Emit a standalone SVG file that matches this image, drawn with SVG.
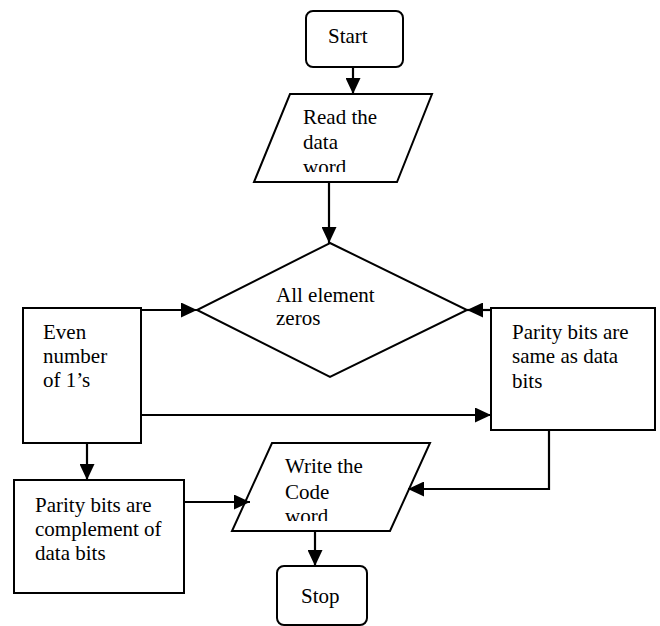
<svg xmlns="http://www.w3.org/2000/svg" width="660" height="626" viewBox="0 0 660 626">
<style>
.shape{fill:#fff;stroke:#000;stroke-width:2}
.lbl{font-family:"Liberation Serif","Times New Roman",serif;font-size:21px;fill:#000}
.conn{fill:none;stroke:#000;stroke-width:2.2;marker-end:url(#ah)}
</style>
<defs>
<marker id="ah" markerUnits="userSpaceOnUse" markerWidth="16" markerHeight="15" refX="16" refY="7.5" orient="auto">
<path d="M0,0 L16,7.5 L0,15 z" fill="#000"/>
</marker>
<clipPath id="clipRead" clipPathUnits="userSpaceOnUse"><rect x="250" y="94" width="190" height="78"/></clipPath>
<clipPath id="clipWrite" clipPathUnits="userSpaceOnUse"><rect x="230" y="443" width="200" height="78"/></clipPath>
</defs>
<rect width="660" height="626" fill="#fff"/>
<g id="start">
<rect class="shape" x="306" y="11" width="97" height="56" rx="7"/>
<text class="lbl" x="328" y="43">Start</text>
</g>
<g id="read">
<polygon class="shape" points="290,94 432,94 397,182 254,182"/>
<g clip-path="url(#clipRead)">
<text class="lbl" x="303" y="124">Read the</text>
<text class="lbl" x="303" y="149">data</text>
<text class="lbl" x="303" y="174">word</text>
</g>
</g>
<g id="decision">
<polygon class="shape" points="330,243 467,310 330,377 197,310"/>
<text class="lbl" x="276" y="302">All element</text>
<text class="lbl" x="276" y="325">zeros</text>
</g>
<g id="even">
<rect class="shape" x="23" y="308" width="118" height="135"/>
<text class="lbl" x="43" y="339">Even</text>
<text class="lbl" x="43" y="363">number</text>
<text class="lbl" x="43" y="387">of 1’s</text>
</g>
<g id="same">
<rect class="shape" x="491" y="308" width="164" height="122"/>
<text class="lbl" x="512" y="339">Parity bits are</text>
<text class="lbl" x="512" y="363">same as data</text>
<text class="lbl" x="512" y="388">bits</text>
</g>
<g id="complement">
<rect class="shape" x="14" y="480" width="170" height="113"/>
<text class="lbl" x="35" y="512">Parity bits are</text>
<text class="lbl" x="35" y="536">complement of</text>
<text class="lbl" x="35" y="560">data bits</text>
</g>
<g id="write">
<polygon class="shape" points="272,443 430,443 390,531 232,531"/>
<g clip-path="url(#clipWrite)">
<text class="lbl" x="285" y="473">Write the</text>
<text class="lbl" x="285" y="499">Code</text>
<text class="lbl" x="285" y="523">word</text>
</g>
</g>
<g id="stop">
<rect class="shape" x="277" y="566" width="90" height="59" rx="7"/>
<text class="lbl" x="301" y="603">Stop</text>
</g>
<g id="connectors">
<path class="conn" d="M353,67 L353,94"/>
<path class="conn" d="M329,182 L329,243"/>
<path class="conn" d="M141,310 L197,310"/>
<path class="conn" d="M491,310 L467,310"/>
<path class="conn" d="M141,415 L491,415"/>
<path class="conn" d="M87,443 L87,480"/>
<path class="conn" d="M184,502 L250,502"/>
<path class="conn" d="M549,430 L549,489 L408,489"/>
<path class="conn" d="M315,531 L315,566"/>
</g>
</svg>
